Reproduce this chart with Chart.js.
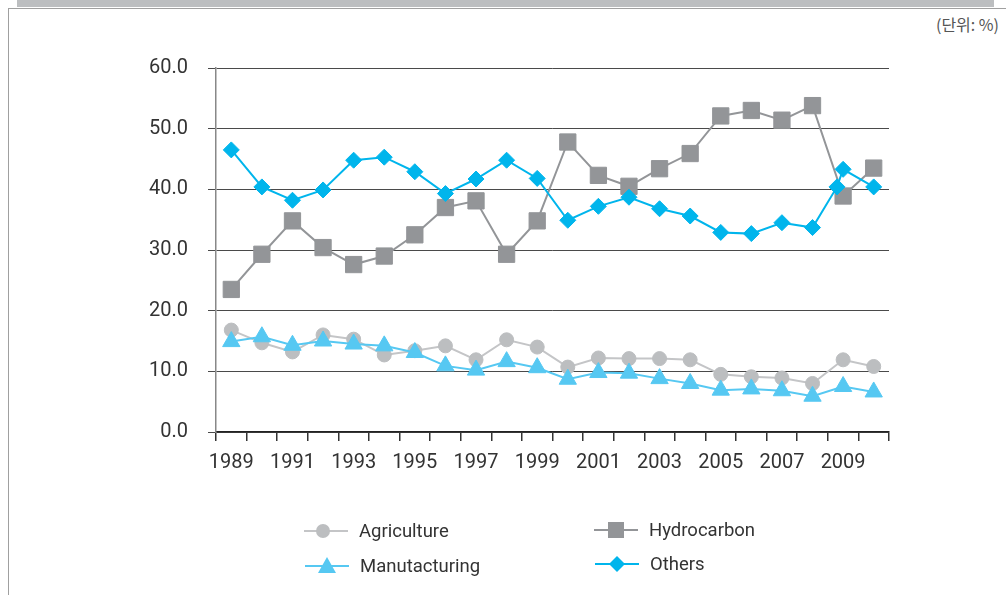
<!DOCTYPE html>
<html>
<head>
<meta charset="utf-8">
<script src="https://cdn.jsdelivr.net/npm/chart.js@4"></script>
<style>
  body { margin: 0; width: 1006px; height: 595px; position: relative; overflow: hidden; background: #fff; font-family: Roboto, sans-serif; }
  #band { position: absolute; left: 17px; top: 0; width: 977px; height: 7px; background: #bcbec0; }
  #rule { position: absolute; left: 8px; top: 8px; right: 0; height: 1px; background: #a0a0a0; }
  #side { position: absolute; left: 8px; top: 8px; width: 1px; bottom: 0; background: #a0a0a0; }
  #unit { position: absolute; right: 7px; top: 12px; font: 16px "Noto Sans CJK KR", sans-serif; color: #555; }
  #chart { position: absolute; left: 0; top: 0; }
  .item { position: absolute; display: flex; align-items: center; height: 22px; font-size: 18.5px; color: #333; }
  .item svg { margin-right: 11px; }
</style>
</head>
<body>
<div id="band"></div>
<div id="rule"></div>
<div id="side"></div>
<div id="unit">(단위: %)</div>
<canvas id="chart" width="1006" height="595"></canvas>
<div id="legend"></div>
<script>
const $ = id => document.getElementById(id);

// data
const years = [1989, 1990, 1991, 1992, 1993, 1994, 1995, 1996, 1997, 1998, 1999,
               2000, 2001, 2002, 2003, 2004, 2005, 2006, 2007, 2008, 2009, 2010];
const labelYears = [1989, 1991, 1993, 1995, 1997, 1999, 2001, 2003, 2005, 2007, 2009];
const yTicks = [0, 10, 20, 30, 40, 50, 60];

const agriculture = [16.8, 14.7, 13.2, 16.0, 15.3, 12.7, 13.4, 14.2, 11.9, 15.2, 14.0,
                     10.7, 12.2, 12.1, 12.1, 11.9, 9.5, 9.1, 8.9, 8.0, 11.9, 10.8];
const manufacturing = [14.9, 15.7, 14.3, 15.0, 14.5, 14.2, 13.1, 10.9, 10.2, 11.6, 10.6,
                       8.7, 9.8, 9.7, 8.8, 8.0, 6.9, 7.1, 6.8, 5.9, 7.5, 6.6];
const hydrocarbon = [23.5, 29.3, 34.8, 30.4, 27.6, 29.0, 32.5, 37.0, 38.1, 29.3, 34.8,
                     47.8, 42.3, 40.5, 43.4, 45.9, 52.1, 53.0, 51.4, 53.8, 38.9, 43.5];
// the source has one extra "Others" marker just before 2009
const othersYears = [1989, 1990, 1991, 1992, 1993, 1994, 1995, 1996, 1997, 1998, 1999,
                     2000, 2001, 2002, 2003, 2004, 2005, 2006, 2007, 2008, 2008.8, 2009, 2010];
const others = [46.5, 40.4, 38.2, 39.9, 44.8, 45.3, 42.9, 39.3, 41.7, 44.8, 41.8,
                34.9, 37.2, 38.7, 36.8, 35.6, 32.9, 32.7, 34.5, 33.7, 40.4, 43.3, 40.4];

const pts = (xs, ys) => xs.map((x, i) => ({ x, y: ys[i] }));

const series = [
  { label: "Others", xs: othersYears, ys: others, color: "#00b5ec", line: "#00b5ec", style: "rectRot", r: 8 },
  { label: "Hydrocarbon", xs: years, ys: hydrocarbon, color: "#939598", line: "#939598", style: "rect", r: 11.5 },
  { label: "Manutacturing", xs: years, ys: manufacturing, color: "#56c8f2", line: "#56c8f2", style: "triangle", r: 10 },
  { label: "Agriculture", xs: years, ys: agriculture, color: "#bcbec0", line: "#c4c5c7", style: "circle", r: 7 }
];

const isYear = v => Number.isInteger(v);

new Chart($("chart"), {
  type: "line",
  data: {
    datasets: series.map(s => ({
      label: s.label,
      data: pts(s.xs, s.ys),
      borderColor: s.line,
      backgroundColor: s.color,
      borderWidth: 2,
      tension: 0,
      pointStyle: s.style,
      pointRadius: s.r,
      pointBackgroundColor: s.color,
      pointBorderColor: s.color,
      pointBorderWidth: 1
    }))
  },
  options: {
    responsive: false,
    animation: false,
    layout: { padding: { left: 136, top: 68, right: 117, bottom: 103 } },
    plugins: { legend: { display: false }, tooltip: { enabled: false } },
    scales: {
      x: {
        type: "linear",
        min: years[0] - 0.5,
        max: years[years.length - 1] + 0.5,
        afterBuildTicks: s => {
          const t = [];
          years.forEach(y => { t.push({ value: y - 0.5 }); t.push({ value: y }); });
          t.push({ value: years[years.length - 1] + 0.5 });
          s.ticks = t;
        },
        afterFit: s => { s.height = 60; },
        ticks: {
          autoSkip: false,
          maxRotation: 0,
          padding: 10,
          color: "#333",
          font: { family: "Roboto", size: 20 },
          callback: v => labelYears.includes(v) ? String(v) : ""
        },
        grid: {
          drawOnChartArea: false,
          tickLength: 9,
          lineWidth: 1.5,
          color: ctx => ctx.tick && isYear(ctx.tick.value) ? "rgba(0,0,0,0)" : "#333",
          tickColor: ctx => ctx.tick && isYear(ctx.tick.value) ? "rgba(0,0,0,0)" : "#333"
        },
        border: { display: true, color: "#222", width: 1.5 }
      },
      y: {
        min: yTicks[0],
        max: yTicks[yTicks.length - 1],
        afterFit: s => { s.width = 80; },
        ticks: {
          stepSize: 10,
          padding: 20,
          color: "#333",
          font: { family: "Roboto", size: 20 },
          callback: v => v.toFixed(1)
        },
        grid: { color: "#4a4a4a", lineWidth: 1, tickLength: 8 },
        border: { display: true, color: "#888", width: 1.5 }
      }
    }
  }
});

// legend, two columns
const sym = {
  circle: c => `<circle cx="19" cy="11" r="7" fill="${c}"/>`,
  rect: c => `<rect x="14" y="3" width="16" height="16" fill="${c}"/>`,
  triangle: c => `<polygon points="22,2 31,18 13,18" fill="${c}"/>`,
  rectRot: c => `<polygon points="22,3 30,11 22,19 14,11" fill="${c}"/>`
};
const legendPos = {
  "Agriculture": [304, 520],
  "Hydrocarbon": [594, 519],
  "Manutacturing": [305, 555],
  "Others": [595, 553]
};
$("legend").innerHTML = series.map(s => {
  const [x, y] = legendPos[s.label];
  return `<div class="item" style="left:${x}px;top:${y}px">
    <svg width="44" height="22"><line x1="0" y1="11" x2="44" y2="11" stroke="${s.line}" stroke-width="2"/>${sym[s.style](s.color)}</svg>
    <span>${s.label}</span></div>`;
}).join("");
</script>
</body>
</html>
